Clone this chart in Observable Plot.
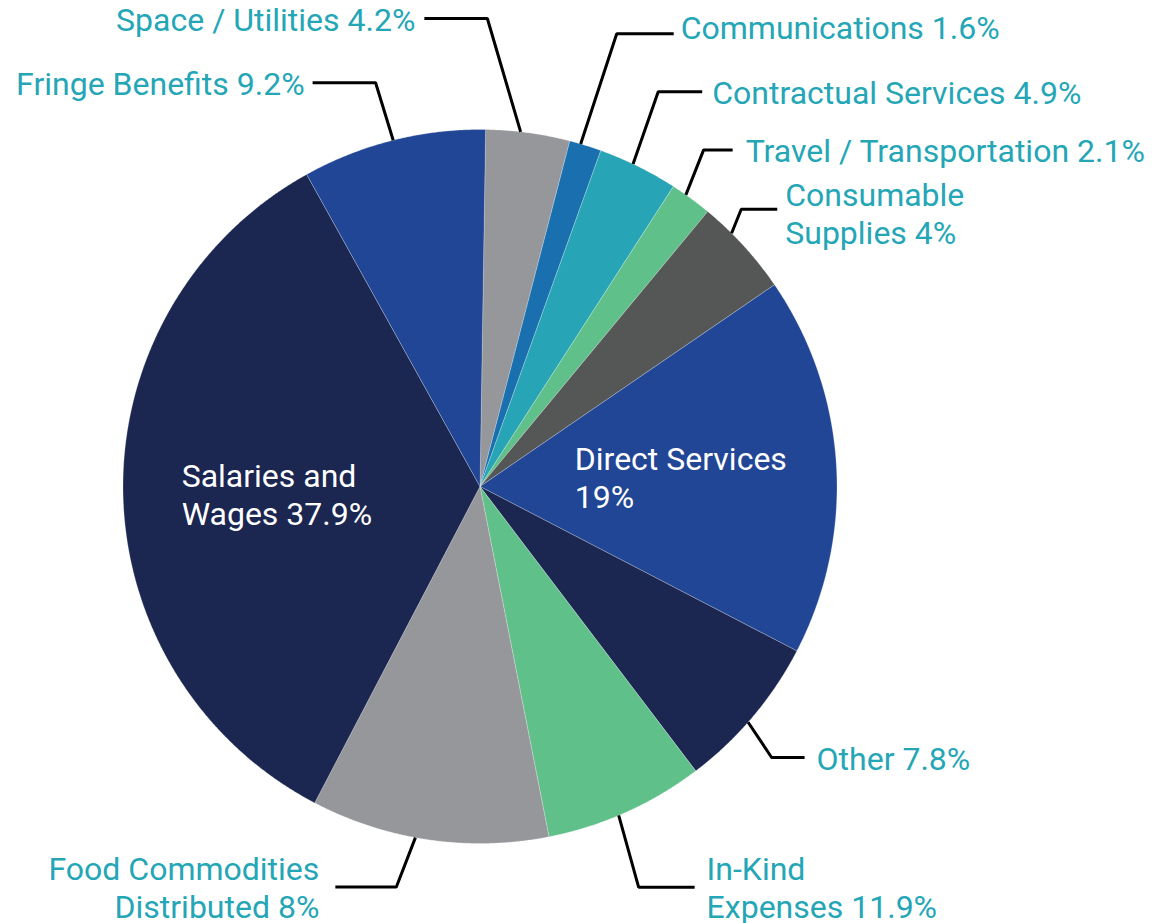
<!DOCTYPE html>
<html>
<head>
<meta charset="utf-8">
<script src="https://cdn.jsdelivr.net/npm/d3@7"></script>
<script src="https://cdn.jsdelivr.net/npm/@observablehq/plot@0.6"></script>
<style>
  html, body { margin: 0; padding: 0; background: #ffffff; }
  #chart svg { display: block; }
</style>
</head>
<body>
<div id="chart"></div>
<script>
// ---------- DATA (slice order, clockwise from 12 o'clock) ----------
const categories = [
  "Space / Utilities", "Communications", "Contractual Services",
  "Travel / Transportation", "Consumable Supplies", "Direct Services",
  "Other", "In-Kind Expenses", "Food Commodities Distributed",
  "Salaries and Wages", "Fringe Benefits"
];
// slice sizes as drawn in the picture
const sliceValues = [4.2, 1.6, 4, 2.1, 4.9, 19, 7.8, 8, 11.9, 37.9, 9.2];
// label texts as printed
const labelTexts = [
  "Space / Utilities 4.2%", "Communications 1.6%", "Contractual Services 4.9%",
  "Travel / Transportation 2.1%", "Consumable\nSupplies 4%", "Direct Services\n19%",
  "Other 7.8%", "In-Kind\nExpenses 11.9%", "Food Commodities\nDistributed 8%",
  "Salaries and\nWages 37.9%", "Fringe Benefits 9.2%"
];

// ---------- STYLE / LAYOUT ----------
const sliceColors = ["#96979b", "#1a6fae", "#27a4b5", "#60c08a", "#555756", "#214695",
                     "#1b2651", "#60c08a", "#96979b", "#1b2651", "#214695"];
const W = 1160, H = 923;
const CX = 479.5, CY = 486, R = 357;     // pie centre and radius in px
const START = 0.9;                        // rotation of the first slice, degrees
const labelColor = "#24a6b7";
const fontSize = 32;
// outer label placement: anchor nudge on the rim, elbow (polar, deg / radius units),
// horizontal arm length and text gap in px
const labelLayout = [
  {nudge: -1.2, ea: 0.9,   er: 1.311, side: -1, arm: 63, gap: 9,  dy: 0},
  {nudge: -0.8, ea: 16.8,  er: 1.325, side: 1,  arm: 57, gap: 7,  dy: -7},
  {nudge: -0.9, ea: 24.3,  er: 1.213, side: 1,  arm: 44, gap: 10, dy: 0},
  {nudge: -1.0, ea: 33.6,  er: 1.132, side: 1,  arm: 29, gap: 13, dy: 0},
  {nudge: -2.8, ea: 43.3,  er: 1.067, side: 1,  arm: 36, gap: 8,  dy: 4},
  {inside: true, nudge: -2.5, r: 0.267},
  {nudge: 1.2,  ea: 132.9, er: 1.115, side: 1,  arm: 33, gap: 12, dy: 0},
  {nudge: 1.3,  ea: 158.4, er: 1.207, side: 1,  arm: 56, gap: 12, dy: 0},
  {nudge: 2.2,  ea: 191.8, er: 1.146, side: -1, arm: 61, gap: 16, dy: 0},
  {inside: true, nudge: -0.6, r: 0.836},
  {nudge: 0,    ea: 345.5, er: 1.168, side: -1, arm: 63, gap: 8,  dy: 0}
];

// ---------- GEOMETRY (unit circle, y downward) ----------
const rad = d => d * Math.PI / 180;
const polar = (deg, r) => [r * Math.sin(rad(deg)), -r * Math.cos(rad(deg))];

const total = d3.sum(sliceValues);
let acc = 0;
const slices = sliceValues.map((v, i) => {
  const a0 = START + acc / total * 360;
  acc += v;
  const a1 = START + acc / total * 360;
  return {i, name: categories[i], a0, a1, mid: (a0 + a1) / 2, color: sliceColors[i]};
});

const slicePts = [];
for (const s of slices) {
  slicePts.push({name: s.name, x: 0, y: 0, color: s.color});
  const n = Math.max(2, Math.ceil((s.a1 - s.a0) / 0.25));
  for (let k = 0; k <= n; k++) {
    const [x, y] = polar(s.a0 + (s.a1 - s.a0) * k / n, 1);
    slicePts.push({name: s.name, x, y, color: s.color});
  }
  slicePts.push({name: s.name, x: 0, y: 0, color: s.color});
}

const leaderPts = [];
const outerLabels = [];
const innerLabels = [];
slices.forEach((s, i) => {
  const L = labelLayout[i];
  if (L.inside) {
    const [x, y] = polar(s.mid + L.nudge, L.r);
    innerLabels.push({x, y, text: labelTexts[i]});
    return;
  }
  const [ax, ay] = polar(s.mid + L.nudge, 1);
  const [ex, ey] = polar(L.ea, L.er);
  const hx = ex + L.side * L.arm / R;
  leaderPts.push({name: s.name, x: ax, y: ay});
  leaderPts.push({name: s.name, x: ex, y: ey});
  leaderPts.push({name: s.name, x: hx, y: ey});
  outerLabels.push({
    x: hx + L.side * L.gap / R, y: ey + L.dy / R,
    side: L.side, text: labelTexts[i]
  });
});

const textOpts = {
  fontFamily: "Roboto", fontSize, lineHeight: 1.19, lineAnchor: "middle"
};

const chart = Plot.plot({
  width: W, height: H, margin: 0,
  style: {background: "#ffffff", fontFamily: "Roboto"},
  x: {domain: [-CX / R, (W - CX) / R], range: [0, W], axis: null},
  y: {domain: [-CY / R, (H - CY) / R], range: [0, H], axis: null},
  color: {type: "identity"},
  marks: [
    Plot.line(slicePts, {x: "x", y: "y", z: "name", fill: "color",
      stroke: "#ffffff", strokeWidth: 0.4, strokeOpacity: 0.6, curve: "linear"}),
    Plot.line(leaderPts, {x: "x", y: "y", z: "name", stroke: "#000000",
      strokeWidth: 3, strokeLinejoin: "miter", strokeLinecap: "butt", curve: "linear"}),
    Plot.text(outerLabels.filter(d => d.side > 0), {x: "x", y: "y", text: "text",
      textAnchor: "start", fill: labelColor, ...textOpts}),
    Plot.text(outerLabels.filter(d => d.side < 0), {x: "x", y: "y", text: "text",
      textAnchor: "end", fill: labelColor, ...textOpts}),
    Plot.text(innerLabels, {x: "x", y: "y", text: "text",
      textAnchor: "start", fill: "#ffffff", ...textOpts})
  ]
});
document.getElementById("chart").appendChild(chart);
</script>
</body>
</html>
